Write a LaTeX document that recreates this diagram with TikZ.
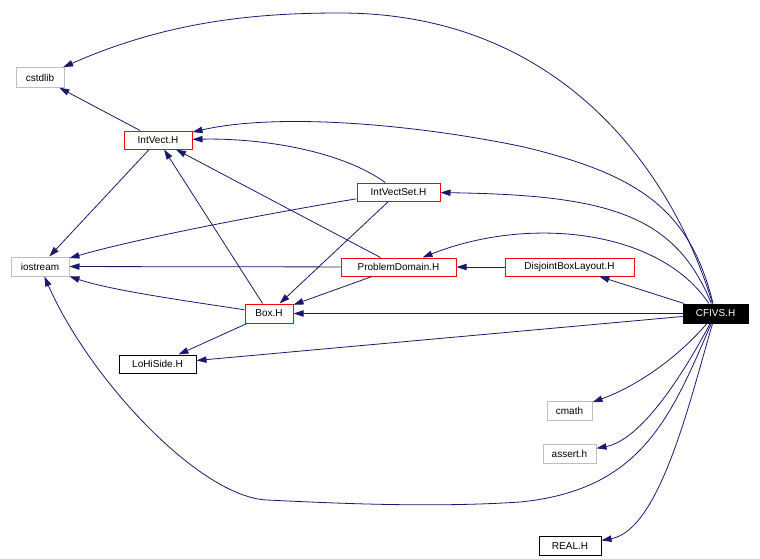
\documentclass[tikz,border=0pt]{standalone}
\usepackage{fontspec}
\setmainfont{Liberation Sans}
\usetikzlibrary{arrows.meta}
\definecolor{edgec}{HTML}{191970}
\definecolor{grayc}{HTML}{BFBFBF}
\begin{document}
\begin{tikzpicture}[x=0.75pt,y=-0.75pt,
  nodebase/.style={rectangle, inner sep=0pt, font=\fontsize{7.5pt}{9pt}\selectfont, line width=0.75pt},
  redbox/.style={nodebase, draw=red},
  graybox/.style={nodebase, draw=grayc},
  blackbox/.style={nodebase, draw=black},
  rootbox/.style={nodebase, draw=black, fill=black, text=white},
  dep/.style={draw=edgec, line width=0.6pt, -{Triangle[length=7.5pt,width=4.8pt]}},
]
\useasboundingbox (0,0) rectangle (760,558);

\node[graybox, minimum width=36pt, minimum height=14.6pt] (cstdlib) at (40,77.5) {cstdlib};
\node[redbox, minimum width=51pt, minimum height=13.5pt] (intvect) at (158,140) {IntVect.H};
\node[graybox, minimum width=43.5pt, minimum height=14.25pt] (iostream) at (40,266.5) {iostream};
\node[redbox, minimum width=36pt, minimum height=14.25pt] (box) at (269,313.5) {Box.H};
\node[blackbox, minimum width=57.75pt, minimum height=13.5pt] (lohiside) at (157.5,364) {LoHiSide.H};
\node[redbox, minimum width=62.25pt, minimum height=13.5pt] (intvectset) at (398.5,192) {IntVectSet.H};
\node[redbox, minimum width=86.25pt, minimum height=13.5pt] (pd) at (398.5,267) {ProblemDomain.H};
\node[redbox, minimum width=96.75pt, minimum height=13.5pt] (dbl) at (569.5,267) {DisjointBoxLayout.H};
\node[rootbox, minimum width=48.75pt, minimum height=14.25pt] (cfivs) at (715.5,313.5) {CFIVS.H};
\node[graybox, minimum width=33.75pt, minimum height=14.25pt] (cmath) at (569.5,410.5) {cmath};
\node[graybox, minimum width=39.75pt, minimum height=14.25pt] (assert) at (569.5,453.5) {assert.h};
\node[blackbox, minimum width=46.5pt, minimum height=14.25pt] (real) at (570,546) {REAL.H};

% edges
\draw[dep] (cfivs) .. controls (672,170) and (560,13) .. (340,13)
                   .. controls (260,13) and (170,20) .. (cstdlib);
\draw[dep] (intvect) -- (cstdlib);
\draw[dep] (cfivs) .. controls (690,210) and (640,175) .. (524,147)
                   .. controls (420,125) and (280,112) .. (intvect);
\draw[dep] (intvectset) .. controls (340,150) and (260,138) .. (intvect);
\draw[dep] (box) -- (intvect);
\draw[dep] (pd) -- (intvect);
\draw[dep] (intvect) -- (iostream);
\draw[dep] (intvectset) .. controls (300,208) and (150,235) .. (iostream);
\draw[dep] (pd) -- (iostream);
\draw[dep] (box) .. controls (180,300) and (110,290) .. (iostream);
\draw[dep] (cfivs) .. controls (670,420) and (640,490) .. (520,502)
                   .. controls (430,508) and (330,503) .. (267,500)
                   .. controls (200,497) and (90,380) .. (iostream);
\draw[dep] (box) -- (lohiside);
\draw[dep] (cfivs) -- (lohiside);
\draw[dep] (cfivs) -- (box);
\draw[dep] (intvectset) -- (box);
\draw[dep] (pd) -- (box);
\draw[dep] (cfivs) .. controls (675,215) and (610,195) .. (intvectset);
\draw[dep] (cfivs) .. controls (660,230) and (530,215) .. (pd);
\draw[dep] (cfivs) -- (dbl);
\draw[dep] (dbl) -- (pd);
\draw[dep] (cfivs) .. controls (680,355) and (640,385) .. (cmath);
\draw[dep] (cfivs) .. controls (680,380) and (640,440) .. (assert);
\draw[dep] (cfivs) .. controls (690,400) and (660,530) .. (real);
\end{tikzpicture}
\end{document}
